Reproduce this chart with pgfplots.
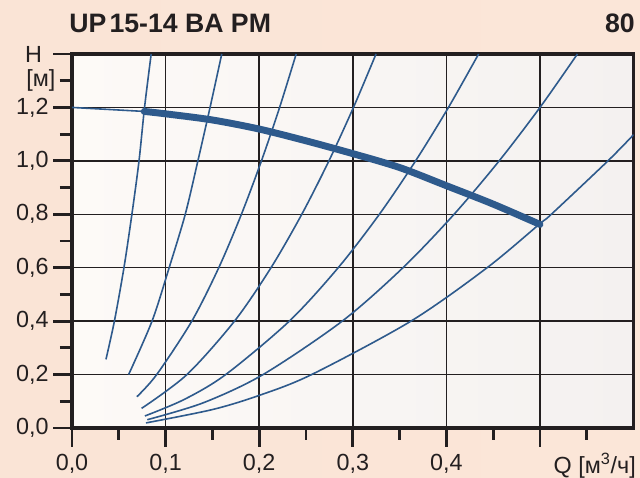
\documentclass[border=0pt]{standalone}
\usepackage{pgfplots}
\pgfplotsset{compat=1.18}
\usepackage{fontspec}
\setmainfont{Liberation Sans}
\definecolor{crv}{RGB}{46,90,140}
\definecolor{ink}{RGB}{35,31,32}
\definecolor{bgL}{RGB}{250,228,214}
\definecolor{bgM}{RGB}{222,209,209}
\definecolor{bgR}{RGB}{251,230,216}
\begin{document}
\begin{tikzpicture}
\shade[left color=bgL, middle color=bgM, right color=bgR] (-54pt,-37.5pt) rectangle (426pt,321pt);
\begin{axis}[
    scale only axis,
    width=421.2pt, height=280.5pt,
    xmin=0, xmax=0.6, ymin=0, ymax=1.4,
    axis background/.style={left color={rgb,255:red,253;green,250;blue,247}, right color={rgb,255:red,244;green,241;blue,240}},
    axis line style={ink, line width=2.6pt},
    tick align=outside, tick pos=left,
    major tick length=14pt, minor tick length=9pt,
    tick style={ink, line width=2.2pt},
    xtick={0,0.1,0.2,0.3,0.4,0.5},
    xticklabels={{0,0},{0,1},{0,2},{0,3},{0,4},{}},
    minor xtick={0.05,0.15,0.25,0.35,0.45,0.55},
    ytick={0,0.2,0.4,0.6,0.8,1.0,1.2,1.4},
    yticklabels={{0,0},{0,2},{0,4},{0,6},{0,8},{1,0},{1,2},{H\hspace*{5pt}}},
    minor ytick={0.1,0.3,0.5,0.7,0.9,1.1,1.3},
    extra y ticks={1.3}, extra y tick labels={[м]},
    extra y tick style={major tick length=9pt, grid=none},
    grid=major, major grid style={ink, line width=1.1pt},
    ticklabel style={font=\fontsize{17.5}{20}\selectfont, text=ink},
    xticklabel style={yshift=-2pt},
    /pgf/number format/assume math mode=true,
]
% system curves
\addplot[crv, line width=1.2pt, smooth] coordinates {(0.0363,0.257) (0.0453,0.4) (0.0555,0.6) (0.0640,0.8) (0.0716,1.0) (0.0775,1.2) (0.0846,1.4)};
\addplot[crv, line width=1.2pt, smooth] coordinates {(0.0605,0.2) (0.0855,0.4) (0.1038,0.6) (0.121,0.8) (0.1345,1.0) (0.1475,1.2) (0.160,1.4)};
\addplot[crv, line width=1.2pt, smooth] coordinates {(0.0693,0.117) (0.0905,0.2) (0.128,0.4) (0.1568,0.6) (0.181,0.8) (0.2024,1.0) (0.2218,1.2) (0.2395,1.4)};
\addplot[crv, line width=1.2pt, smooth] coordinates {(0.0744,0.0735) (0.1228,0.2) (0.1736,0.4) (0.2126,0.6) (0.2455,0.8) (0.2745,1.0) (0.3007,1.2) (0.3248,1.4)};
\addplot[crv, line width=1.2pt, smooth] coordinates {(0.0779,0.045) (0.12,0.107) (0.1642,0.2) (0.2322,0.4) (0.2844,0.6) (0.3284,0.8) (0.3671,1.0) (0.4022,1.2) (0.4344,1.4)};
\addplot[crv, line width=1.2pt, smooth] coordinates {(0.0804,0.031) (0.14,0.094) (0.2041,0.2) (0.2887,0.4) (0.3536,0.6) (0.4082,0.8) (0.4564,1.0) (0.5,1.2) (0.54,1.4)};
\addplot[crv, line width=1.2pt, smooth] coordinates {(0.079,0.019) (0.15,0.069) (0.2,0.122) (0.256,0.2) (0.3621,0.4) (0.4435,0.6) (0.5,0.765) (0.5121,0.8) (0.5726,1.0) (0.6,1.098)};
% pump curve
\addplot[crv, line width=1.2pt] coordinates {(0,1.2) (0.0772,1.185)};
\addplot[crv, line width=5.2pt, smooth, line cap=round] coordinates {(0.0772,1.185) (0.1,1.176) (0.15,1.153) (0.2,1.119) (0.25,1.075) (0.3,1.027) (0.35,0.975) (0.4,0.907) (0.45,0.838) (0.5,0.762)};
\end{axis}
\node[anchor=base east, inner sep=0pt, text=ink, font=\fontsize{17.5}{20}\selectfont] at (423pt,-34pt) {Q [м\textsuperscript{3}/ч]};
\node[anchor=base west, inner sep=0pt, text=ink, font=\bfseries\fontsize{20}{23}\selectfont] at (-2.25pt,296.25pt) {UP\hspace{0.12em}15-14 BA PM};
\node[anchor=base east, inner sep=0pt, text=ink, font=\bfseries\fontsize{20}{23}\selectfont] at (422.25pt,296.25pt) {80};
\pgfresetboundingbox
\path[use as bounding box] (-54pt,-37.5pt) rectangle (426pt,321pt);
\end{tikzpicture}
\end{document}
